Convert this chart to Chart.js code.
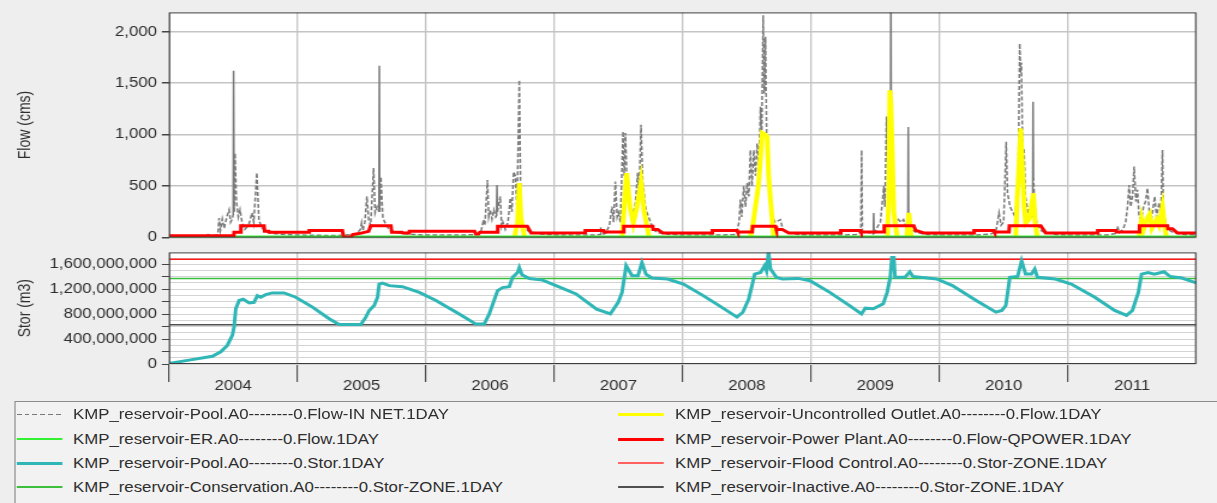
<!DOCTYPE html>
<html><head><meta charset="utf-8">
<script src="https://cdn.jsdelivr.net/npm/chart.js@4.4.1/dist/chart.umd.min.js"></script>
<style>
html,body{margin:0;padding:0;background:#eeeeee;overflow:hidden;width:1217px;height:503px;}
#stage{position:absolute;left:0;top:0;width:1014px;height:503px;transform:scaleX(1.2002);transform-origin:0 0;font-family:"Liberation Sans",Arial,sans-serif;}
#c1{position:absolute;left:0;top:0;}
#c2{position:absolute;left:0;top:240px;}
#legendBox{position:absolute;left:11.7px;top:401px;width:1100px;height:200px;border:1px solid #8c8c8c;background:#f2f2f2;}
.sw{position:absolute;}
.lt{position:absolute;font-size:14px;line-height:16px;color:#2e2e2e;white-space:nowrap;}
</style></head>
<body>
<div id="stage">
<canvas id="c1" width="1014" height="250" style="width:1014px;height:250px"></canvas>
<canvas id="c2" width="1014" height="160" style="width:1014px;height:160px"></canvas>
<div id="legendBox"></div>
<div id="legendItems"></div>
</div>
<script>
// ---------------- data (x = decimal year) ----------------
const seriesNames = [
  "KMP_reservoir-Pool.A0--------0.Flow-IN NET.1DAY",
  "KMP_reservoir-ER.A0--------0.Flow.1DAY",
  "KMP_reservoir-Pool.A0--------0.Stor.1DAY",
  "KMP_reservoir-Conservation.A0--------0.Stor-ZONE.1DAY",
  "KMP_reservoir-Uncontrolled Outlet.A0--------0.Flow.1DAY",
  "KMP_reservoir-Power Plant.A0--------0.Flow-QPOWER.1DAY",
  "KMP_reservoir-Flood Control.A0--------0.Stor-ZONE.1DAY",
  "KMP_reservoir-Inactive.A0--------0.Stor-ZONE.1DAY"
];
const years = [2004, 2005, 2006, 2007, 2008, 2009, 2010, 2011];
const flowTicks = [0, 500, 1000, 1500, 2000];
const storTicksM = [0,100,200,300,400,500,600,700,800,900,1000,1100,1200,1300,1400,1500,1600,1700];

// Inflow (cms)
const inflow = [
 [2004.00,12],[2004.20,15],[2004.30,18],[2004.305,45],[2004.312,15],[2004.38,25],[2004.39,190],[2004.40,70],[2004.415,180],[2004.43,90],[2004.45,200],[2004.468,270],[2004.48,150],[2004.49,175],[2004.50,220],[2004.503,1620],[2004.507,250],[2004.514,820],[2004.525,350],[2004.54,200],[2004.553,270],[2004.57,140],[2004.59,80],[2004.62,120],[2004.647,240],[2004.66,150],[2004.684,630],[2004.70,175],[2004.72,100],[2004.75,60],[2004.80,40],[2004.90,30],
 [2005.00,25],[2005.30,20],[2005.45,30],[2005.49,77],[2005.50,145],[2005.51,70],[2005.525,150],[2005.541,400],[2005.555,175],[2005.57,120],[2005.593,675],[2005.605,240],[2005.62,300],[2005.635,250],[2005.638,1670],[2005.641,250],[2005.65,590],[2005.665,200],[2005.68,150],[2005.697,110],[2005.72,70],[2005.78,45],[2005.90,30],
 [2006.00,25],[2006.30,25],[2006.40,30],[2006.43,60],[2006.45,175],[2006.46,120],[2006.48,560],[2006.49,200],[2006.502,270],[2006.515,180],[2006.53,270],[2006.545,200],[2006.551,210],[2006.554,510],[2006.557,250],[2006.58,400],[2006.59,110],[2006.60,150],[2006.619,80],[2006.64,150],[2006.658,385],[2006.67,250],[2006.684,640],[2006.697,600],[2006.71,300],[2006.728,1530],[2006.741,175],[2006.76,110],[2006.80,60],[2006.90,35],
 [2007.00,25],[2007.30,25],[2007.36,30],[2007.363,100],[2007.366,30],[2007.40,40],[2007.43,120],[2007.45,300],[2007.462,150],[2007.476,545],[2007.49,200],[2007.50,240],[2007.515,150],[2007.536,1030],[2007.545,600],[2007.554,1015],[2007.57,400],[2007.58,370],[2007.60,205],[2007.63,300],[2007.65,630],[2007.66,400],[2007.676,1095],[2007.69,500],[2007.697,465],[2007.71,300],[2007.723,240],[2007.75,150],[2007.775,78],[2007.80,50],[2007.90,30],
 [2008.00,25],[2008.30,25],[2008.40,30],[2008.425,78],[2008.44,150],[2008.45,370],[2008.46,200],[2008.476,500],[2008.49,300],[2008.502,530],[2008.515,400],[2008.528,850],[2008.54,500],[2008.554,850],[2008.567,600],[2008.58,915],[2008.595,700],[2008.606,1270],[2008.615,900],[2008.627,2160],[2008.636,1400],[2008.645,1950],[2008.655,900],[2008.67,500],[2008.684,370],[2008.70,200],[2008.72,150],[2008.762,175],[2008.78,80],[2008.82,50],[2008.90,30],
 [2009.00,25],[2009.25,25],[2009.35,30],[2009.388,60],[2009.394,850],[2009.40,60],[2009.45,50],[2009.485,30],[2009.488,240],[2009.491,40],[2009.52,110],[2009.54,150],[2009.567,500],[2009.575,300],[2009.588,1175],[2009.60,600],[2009.612,900],[2009.619,700],[2009.622,2500],[2009.625,700],[2009.64,300],[2009.658,205],[2009.68,175],[2009.70,150],[2009.72,175],[2009.74,100],[2009.754,120],[2009.757,1075],[2009.760,120],[2009.78,78],[2009.82,50],[2009.90,30],
 [2010.00,25],[2010.30,25],[2010.40,35],[2010.44,60],[2010.464,240],[2010.48,120],[2010.50,150],[2010.52,930],[2010.53,435],[2010.55,300],[2010.57,250],[2010.59,200],[2010.60,370],[2010.614,600],[2010.625,1885],[2010.632,1600],[2010.638,1700],[2010.648,850],[2010.659,850],[2010.67,400],[2010.69,240],[2010.71,200],[2010.726,200],[2010.729,1320],[2010.732,590],[2010.745,250],[2010.76,120],[2010.80,60],[2010.90,30],
 [2011.00,25],[2011.30,25],[2011.38,40],[2011.387,110],[2011.40,50],[2011.43,80],[2011.45,150],[2011.465,300],[2011.477,510],[2011.49,300],[2011.505,420],[2011.516,690],[2011.53,350],[2011.542,465],[2011.555,200],[2011.57,175],[2011.59,300],[2011.605,350],[2011.62,480],[2011.635,250],[2011.65,175],[2011.665,300],[2011.677,400],[2011.69,200],[2011.711,335],[2011.725,250],[2011.737,850],[2011.745,240],[2011.76,150],[2011.78,78],[2011.82,50],[2011.90,30],[2012.00,25]
];

// Environmental release (cms)
const erFlow = [[2004.00,5],[2012.00,5]];

// Uncontrolled outlet (cms); null = no flow drawn
const uncontrolled = [
 [2006.69,0],[2006.715,150],[2006.728,530],[2006.74,200],[2006.77,0],[2006.80,null],
 [2007.528,0],[2007.545,300],[2007.564,625],[2007.59,300],[2007.616,140],[2007.645,300],[2007.676,545],[2007.70,250],[2007.74,0],[2007.80,null],
 [2008.528,0],[2008.55,150],[2008.567,300],[2008.59,500],[2008.62,1015],[2008.64,1000],[2008.658,980],[2008.67,600],[2008.684,370],[2008.71,0],[2008.80,null],
 [2009.595,0],[2009.606,400],[2009.614,1430],[2009.622,1300],[2009.632,850],[2009.645,240],[2009.66,100],[2009.672,0],[2009.70,null],
 [2009.745,0],[2009.762,240],[2009.78,0],[2009.80,null],
 [2010.594,0],[2010.605,370],[2010.62,700],[2010.633,1060],[2010.646,690],[2010.66,300],[2010.672,140],[2010.70,180],[2010.732,430],[2010.745,150],[2010.763,0],[2010.80,null],
 [2011.555,0],[2011.574,175],[2011.59,78],[2011.615,180],[2011.637,225],[2011.655,90],[2011.69,175],[2011.71,120],[2011.737,300],[2011.75,150],[2011.768,0]
];

// Power plant release (cms)
const powerPlant = [
 [2004.00,19],[2004.505,19],[2004.507,51],[2004.557,51],[2004.56,116],[2004.74,116],[2004.745,61],[2004.777,61],[2004.78,51],[2005.09,51],[2005.092,68],[2005.35,68],[2005.36,7],[2005.42,7],[2005.43,29],[2005.48,39],[2005.555,61],[2005.57,116],[2005.728,116],[2005.735,51],[2005.815,51],[2005.82,45],[2005.87,45],[2005.872,61],
 [2006.38,61],[2006.39,35],[2006.41,35],[2006.42,51],[2006.557,51],[2006.56,110],[2006.79,110],[2006.82,45],[2006.98,45],
 [2007.24,48],[2007.242,70],[2007.385,70],[2007.39,55],[2007.54,55],[2007.542,110],[2007.767,110],[2007.77,78],[2007.806,78],[2007.845,45],
 [2008.23,45],[2008.232,70],[2008.425,70],[2008.43,55],[2008.542,55],[2008.545,110],[2008.723,110],[2008.73,78],[2008.776,78],[2008.827,45],
 [2009.23,45],[2009.232,70],[2009.386,70],[2009.39,55],[2009.567,55],[2009.57,116],[2009.80,116],[2009.815,70],[2009.879,45],
 [2010.269,45],[2010.27,70],[2010.425,70],[2010.43,55],[2010.542,55],[2010.545,116],[2010.789,116],[2010.828,45],
 [2011.231,45],[2011.233,70],[2011.373,70],[2011.378,55],[2011.555,55],[2011.558,116],[2011.776,116],[2011.78,85],[2011.815,85],[2011.854,45],[2012.00,45]
];

// Pool storage (million m3)
const storage = [
 [2004.00,10],[2004.156,62],[2004.338,124],[2004.403,196],[2004.454,299],[2004.494,464],[2004.507,597],[2004.52,886],[2004.546,1020],[2004.577,1040],[2004.624,979],[2004.662,989],[2004.688,1097],[2004.714,1071],[2004.753,1112],[2004.805,1140],[2004.896,1140],[2004.987,1071],
 [2005.117,912],[2005.247,726],[2005.325,632],[2005.494,632],[2005.533,752],[2005.559,859],[2005.598,937],[2005.624,1071],[2005.637,1283],[2005.662,1298],[2005.715,1257],[2005.818,1240],[2005.949,1149],
 [2006.079,1018],[2006.26,803],[2006.39,640],[2006.455,640],[2006.494,803],[2006.559,1177],[2006.598,1226],[2006.65,1240],[2006.676,1390],[2006.715,1468],[2006.728,1545],[2006.749,1432],[2006.806,1370],[2006.91,1346],
 [2007.014,1257],[2007.17,1123],[2007.33,880],[2007.437,803],[2007.498,989],[2007.528,1149],[2007.56,1576],[2007.606,1415],[2007.652,1415],[2007.683,1627],[2007.714,1442],[2007.76,1379],[2007.883,1363],
 [2008.006,1283],[2008.16,1097],[2008.284,937],[2008.423,752],[2008.469,831],[2008.515,1044],[2008.546,1308],[2008.561,1442],[2008.607,1468],[2008.638,1576],[2008.653,1494],[2008.669,1800],[2008.684,1524],[2008.73,1390],[2008.776,1363],[2008.9,1373],[2008.992,1336],
 [2009.146,1149],[2009.3,937],[2009.393,803],[2009.423,896],[2009.485,886],[2009.562,965],[2009.593,1149],[2009.617,1390],[2009.63,1707],[2009.645,1707],[2009.654,1390],[2009.731,1390],[2009.769,1479],[2009.793,1404],[2009.978,1363],
 [2010.101,1257],[2010.286,1018],[2010.44,831],[2010.486,859],[2010.517,937],[2010.548,1390],[2010.609,1404],[2010.64,1654],[2010.671,1442],[2010.717,1442],[2010.742,1524],[2010.764,1390],[2010.902,1363],
 [2011.026,1283],[2011.21,1071],[2011.364,859],[2011.457,780],[2011.503,859],[2011.549,1149],[2011.574,1442],[2011.626,1468],[2011.673,1442],[2011.75,1479],[2011.796,1404],[2011.888,1379],[2012.00,1300]
];
const conservation = [[2004.00,1372],[2012.00,1372]];
const floodControl = [[2004.00,1680],[2012.00,1680]];
const inactive = [[2004.00,630],[2012.00,630]];

// ---------------- styling ----------------
const FONT = '"Liberation Sans", Arial, sans-serif';
Chart.defaults.font.family = FONT;
Chart.defaults.font.size = 14;
Chart.defaults.color = '#2e2e2e';
const LEFT_W = 140.8, RIGHT_PAD = 17.3;
const styles = [
  {color:'#7a7a7a', width:1.5, dash:[4,2], lw:1},
  {color:'#33f033', width:3, lw:2},
  {color:'#2fb6b6', width:3, lw:3},
  {color:'#3cbf3c', width:1.5, lw:2},
  {color:'#ffff00', width:4, lw:3},
  {color:'#ff0000', width:3, lw:3},
  {color:'#ff1a1a', width:1.3, lw:2, lc:'#ff6060'},
  {color:'#505050', width:1.5, lw:2}
];
const CLEAR = 'rgba(0,0,0,0)';
const isInt = v => Math.abs(v - Math.round(v)) < 1e-6;
const toPts = (arr, k) => arr.map(p => ({x: p[0], y: p[1] === null ? null : p[1] * k}));

const plotFrame = {
  id: 'plotFrame',
  beforeDraw(chart) {
    const {ctx, chartArea: a} = chart;
    ctx.save(); ctx.fillStyle = '#ffffff';
    ctx.fillRect(a.left, a.top, a.right - a.left, a.bottom - a.top); ctx.restore();
  },
  afterDatasetsDraw(chart) {
    const {ctx, chartArea: a} = chart;
    ctx.save(); ctx.strokeStyle = '#3c3c3c'; ctx.lineWidth = 1;
    ctx.strokeRect(a.left + 0.5, a.top + 0.5, a.right - a.left - 1, a.bottom - a.top - 1); ctx.restore();
  }
};

function ds(i, data, order, extra) {
  const s = styles[i];
  return Object.assign({
    label: seriesNames[i], data, order,
    borderColor: s.color, backgroundColor: s.color, borderWidth: s.width,
    borderDash: s.dash || [], pointRadius: 0, tension: 0, fill: false, spanGaps: false
  }, extra || {});
}

const yearTicks = years.map(y => y + 0).concat([2012]);
const yearMidTicks = [];
years.forEach(y => { yearMidTicks.push(y, y + 0.5); });
yearMidTicks.push(2012);

// ---------------- top chart: flow ----------------
new Chart(document.getElementById('c1'), {
  type: 'line',
  data: { datasets: [
    ds(5, toPts(powerPlant, 1), 0),
    ds(1, toPts(erFlow, 1), 1),
    ds(4, toPts(uncontrolled, 1), 2),
    ds(0, toPts(inflow, 1), 3, {
      segment: { borderDash: c => (Math.abs(c.p1.parsed.x - c.p0.parsed.x) < 0.0045 &&
                                   Math.abs(c.p1.parsed.y - c.p0.parsed.y) > 150) ? [] : undefined }
    })
  ]},
  options: {
    responsive: false, animation: false, events: [], devicePixelRatio: 1,
    layout: { padding: { left: 0, top: 12, right: RIGHT_PAD, bottom: 12 } },
    plugins: { legend: { display: false }, tooltip: { enabled: false } },
    scales: {
      x: {
        type: 'linear', min: 2004, max: 2012,
        afterBuildTicks: s => { s.ticks = yearTicks.map(v => ({value: v})); },
        ticks: { display: false },
        grid: { color: '#c4c4c4', lineWidth: 1.3, drawTicks: false },
        border: { display: false },
        afterFit: s => { s.height = 0; }
      },
      y: {
        min: 0, max: 2187,
        afterBuildTicks: s => { s.ticks = flowTicks.map(v => ({value: v})); },
        ticks: { callback: v => v.toLocaleString('en-US'), padding: 4, color: '#2e2e2e' },
        grid: { color: '#c4c4c4', lineWidth: 1.5, tickLength: 6, tickColor: '#444' },
        border: { display: false },
        title: { display: true, text: 'Flow (cms)', color: '#2e2e2e', font: {size: 14}, padding: {top: 13, bottom: 0} },
        afterFit: s => { s.width = LEFT_W; }
      }
    }
  },
  plugins: [plotFrame]
});

// ---------------- bottom chart: storage ----------------
new Chart(document.getElementById('c2'), {
  type: 'line',
  data: { datasets: [
    ds(2, toPts(storage, 1e6), 0),
    ds(6, toPts(floodControl, 1e6), 1),
    ds(3, toPts(conservation, 1e6), 2),
    ds(7, toPts(inactive, 1e6), 3)
  ]},
  options: {
    responsive: false, animation: false, events: [], devicePixelRatio: 1,
    layout: { padding: { left: 0, top: 11, right: RIGHT_PAD, bottom: 0 } },
    plugins: { legend: { display: false }, tooltip: { enabled: false } },
    scales: {
      x: {
        type: 'linear', min: 2004, max: 2012,
        afterBuildTicks: s => { s.ticks = yearMidTicks.map(v => ({value: v})); },
        ticks: { autoSkip: false, maxRotation: 0, padding: -4, color: '#2e2e2e',
                 callback: v => isInt(v) ? '' : String(Math.floor(v)) },
        grid: { color: c => isInt(c.tick.value) ? '#c4c4c4' : CLEAR, lineWidth: 1.3, tickLength: 18,
                tickColor: c => (isInt(c.tick.value) && c.tick.value < 2012) ? '#333' : CLEAR, tickWidth: 1 },
        border: { display: false },
        afterFit: s => { s.height = 36; }
      },
      y: {
        min: 0, max: 1790e6,
        afterBuildTicks: s => { s.ticks = storTicksM.map(v => ({value: v * 1e6})); },
        ticks: { autoSkip: false, padding: 4, color: '#2e2e2e',
                 callback: v => (Math.round(v / 1e8) % 4 === 0) ? v.toLocaleString('en-US') : '' },
        grid: { color: '#d4d4d4', lineWidth: 1, tickLength: 6,
                tickColor: c => (Math.round(c.tick.value / 1e8) % 2 === 0) ? '#444' : CLEAR },
        border: { display: false },
        title: { display: true, text: 'Stor (m3)', color: '#2e2e2e', font: {size: 14}, padding: {top: 13, bottom: 0} },
        afterFit: s => { s.width = LEFT_W; }
      }
    }
  },
  plugins: [plotFrame]
});

// ---------------- legend (HTML, from series names/styles) ----------------
const legendOrder = [0, 4, 1, 5, 2, 6, 3, 7]; // row-major, two columns
const rowCenters = [414, 439, 463, 487];
const colSwatch = [13.8, 514.8], colText = [60.8, 562.5], swW = 38.7;
const box = document.getElementById('legendItems');
legendOrder.forEach((si, k) => {
  const row = Math.floor(k / 2), col = k % 2, s = styles[si];
  const cy = rowCenters[row];
  const sw = document.createElement('div');
  sw.className = 'sw';
  const h = s.lw;
  sw.style.left = colSwatch[col] + 'px';
  sw.style.width = swW + 'px';
  sw.style.top = Math.round(cy - h / 2) + 'px';
  sw.style.height = h + 'px';
  const c = s.lc || s.color;
  if (s.dash) sw.style.background = `repeating-linear-gradient(to right, ${c} 0 4px, transparent 4px 6.5px)`;
  else sw.style.background = c;
  box.appendChild(sw);
  const t = document.createElement('div');
  t.className = 'lt';
  t.style.left = colText[col] + 'px';
  t.style.top = (cy - 8) + 'px';
  t.textContent = seriesNames[si];
  box.appendChild(t);
});
</script>
</body></html>
